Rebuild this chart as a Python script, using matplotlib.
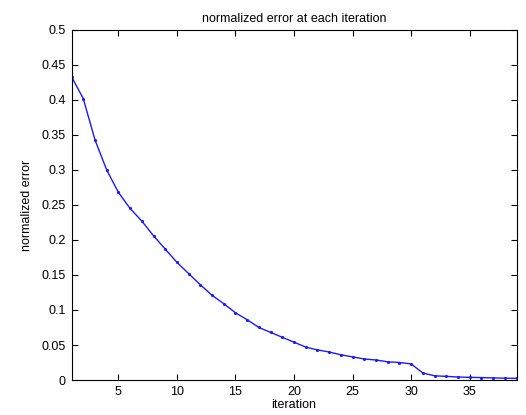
import matplotlib
matplotlib.use('Agg')
import matplotlib.pyplot as plt
import numpy as np

iterations = np.arange(1, 40)
norm_error = [0.433, 0.402, 0.343, 0.300, 0.268, 0.245, 0.227, 0.206, 0.187, 0.168,
              0.152, 0.136, 0.121, 0.109, 0.096, 0.086, 0.075, 0.068, 0.061, 0.054,
              0.047, 0.043, 0.040, 0.036, 0.033, 0.030, 0.0286, 0.026, 0.025, 0.023,
              0.010, 0.006, 0.0052, 0.0043, 0.0038, 0.0035, 0.0030, 0.0026, 0.0024]
yticks = [0, 0.05, 0.1, 0.15, 0.2, 0.25, 0.3, 0.35, 0.4, 0.45, 0.5]
yticklabels = ['0', '0.05', '0.1', '0.15', '0.2', '0.25', '0.3', '0.35', '0.4', '0.45', '0.5']
xticks = [5, 10, 15, 20, 25, 30, 35]

plt.rcParams['font.family'] = ['Liberation Sans', 'DejaVu Sans']
plt.rcParams['font.size'] = 9

fig = plt.figure(figsize=(5.26, 4.15), dpi=100)
ax = fig.add_axes([0.136, 0.0843, 0.846, 0.8437])
ax.plot(iterations, norm_error, color='#1a1aff', lw=1, marker='.', ms=2.5)
ax.set_xlim(1, 39)
ax.set_ylim(0, 0.5)
ax.set_xticks(xticks)
ax.set_yticks(yticks)
ax.set_yticklabels(yticklabels)
ax.tick_params(direction='in', top=True, right=True, length=4, width=0.8, pad=4)
for s in ax.spines.values():
    s.set_linewidth(0.8)
ax.set_xlabel('iteration', labelpad=1)
ax.set_ylabel('normalized error', labelpad=6)
ax.set_title('normalized error at each iteration', fontsize=9, pad=6)

fig.savefig('out.png', dpi=100)
